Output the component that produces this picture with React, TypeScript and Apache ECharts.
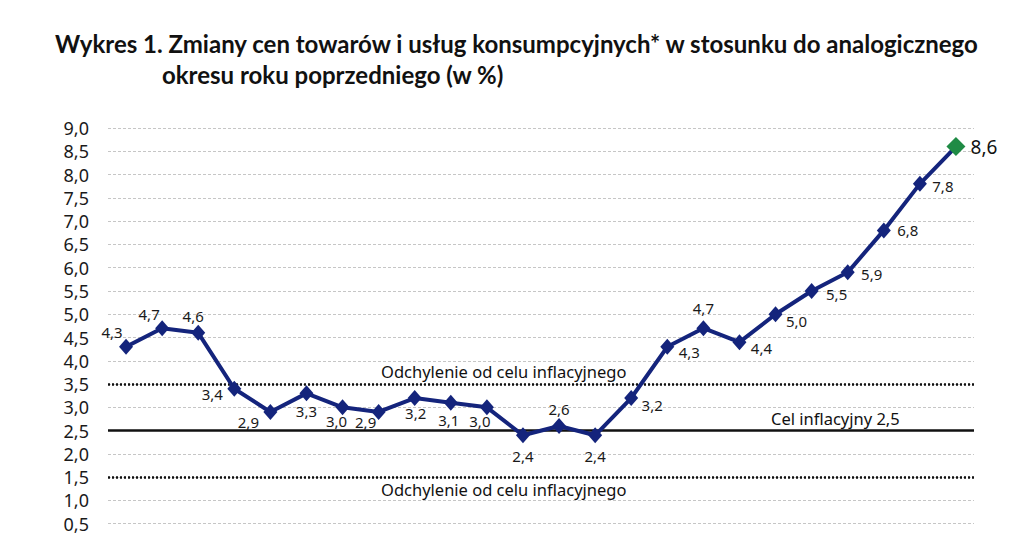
import React, { useEffect, useRef } from "react";
import * as echarts from "echarts";

const months = [
  "I 2020", "II 2020", "III 2020", "IV 2020", "V 2020", "VI 2020",
  "VII 2020", "VIII 2020", "IX 2020", "X 2020", "XI 2020", "XII 2020",
  "I 2021", "II 2021", "III 2021", "IV 2021", "V 2021", "VI 2021",
  "VII 2021", "VIII 2021", "IX 2021", "X 2021", "XI 2021", "XII 2021",
];
const cpi = [4.3, 4.7, 4.6, 3.4, 2.9, 3.3, 3.0, 2.9, 3.2, 3.1, 3.0, 2.4, 2.6, 2.4, 3.2, 4.3, 4.7, 4.4, 5.0, 5.5, 5.9, 6.8, 7.8, 8.6];
const target = 2.5;
const upperBand = 3.5;
const lowerBand = 1.5;
const titleLine1 = "Wykres 1. Zmiany cen towarów i usług konsumpcyjnych* w stosunku do analogicznego";
const titleLine2 = "okresu roku poprzedniego (w %)";
const bandLabel = "Odchylenie od celu inflacyjnego";
const targetLabel = "Cel inflacyjny 2,5";

// label offsets (style only) relative to each point
const labelOffsets: [number, number][] = [
  [-14, -15], [-13, -14], [-5, -17], [-22, 5], [-22, 10], [0, 18],
  [-6, 14], [-13, 10], [1, 15], [-2, 17], [-7, 14], [0, 21],
  [0, -17], [0, 21], [21, 7], [22, 5], [0, -20], [22, 6],
  [21, 7], [25, 3], [24, 2], [24, 0], [23, 2], [28, 0],
];

const fmt = (v: number) => v.toFixed(1).replace(".", ",");

export default function App() {
  const ref = useRef<HTMLDivElement>(null);
  useEffect(() => {
    document.body.style.overflow = "hidden";
    const chart = echarts.init(ref.current!, undefined, { renderer: "svg" });
    const last = cpi.length - 1;
    const data = cpi.map((v, i) => {
      const item: any = {
        value: v,
        label: { offset: labelOffsets[i] },
      };
      if (i === last) {
        item.symbolSize = [19, 19];
        item.itemStyle = { color: "#1f8b45" };
        item.label = { offset: labelOffsets[i], fontSize: 19, color: "#111" };
      }
      return item;
    });
    chart.setOption({
      animation: false,
      textStyle: { fontFamily: "Noto Sans" },
      graphic: [
        {
          type: "text",
          left: 55,
          top: 31,
          style: { text: titleLine1, font: "bold 24px Lato", fill: "#111" },
        },
        {
          type: "text",
          left: 162,
          top: 62,
          style: { text: titleLine2, font: "bold 24px Lato", fill: "#111" },
        },
      ],
      grid: { left: 108, right: 53, top: 128, bottom: 13 },
      xAxis: {
        type: "category",
        data: months,
        boundaryGap: true,
        axisLine: { show: false },
        axisTick: { show: false },
        axisLabel: { show: false },
      },
      yAxis: {
        type: "value",
        min: 0,
        max: 9,
        interval: 0.5,
        axisLine: { show: false },
        axisTick: { show: false },
        axisLabel: {
          formatter: (v: number) => fmt(v),
          fontSize: 18,
          color: "#1a1a1a",
          margin: 19,
          fontFamily: "Noto Sans",
        },
        splitLine: { lineStyle: { color: "#c6c6c6", type: [3, 2], width: 1 } },
      },
      series: [
        {
          type: "line",
          data,
          symbol: "diamond",
          symbolSize: [14, 16],
          lineStyle: { color: "#14247c", width: 4 },
          itemStyle: { color: "#14247c" },
          label: {
            show: true,
            position: "inside",
            formatter: (p: any) => fmt(p.value),
            fontSize: 15,
            color: "#1a1a1a",
            fontFamily: "Noto Sans",
          },
          z: 5,
          markLine: {
            silent: true,
            symbol: "none",
            animation: false,
            data: [
              {
                yAxis: target,
                lineStyle: { color: "#111", type: "solid", width: 2.5 },
                label: {
                  show: true,
                  formatter: targetLabel,
                  position: "insideStartTop",
                  distance: 4,
                  padding: [0, 0, 0, 659],
                  fontSize: 16.5,
                  color: "#111",
                },
              },
              {
                yAxis: upperBand,
                lineStyle: { color: "#111", type: [2, 2], width: 2.5 },
                label: {
                  show: true,
                  formatter: bandLabel,
                  position: "insideStartTop",
                  distance: 4,
                  padding: [0, 0, 0, 269],
                  fontSize: 16.5,
                  color: "#111",
                },
              },
              {
                yAxis: lowerBand,
                lineStyle: { color: "#111", type: [2, 2], width: 2.5 },
                label: {
                  show: true,
                  formatter: bandLabel,
                  position: "insideStartBottom",
                  distance: 4,
                  padding: [0, 0, 0, 269],
                  fontSize: 16.5,
                  color: "#111",
                },
              },
            ],
          },
        },
      ],
    });
    return () => chart.dispose();
  }, []);
  return (
    <div
      ref={ref}
      style={{ position: "absolute", left: 0, top: 0, width: 1027, height: 560, background: "#fff" }}
    />
  );
}
